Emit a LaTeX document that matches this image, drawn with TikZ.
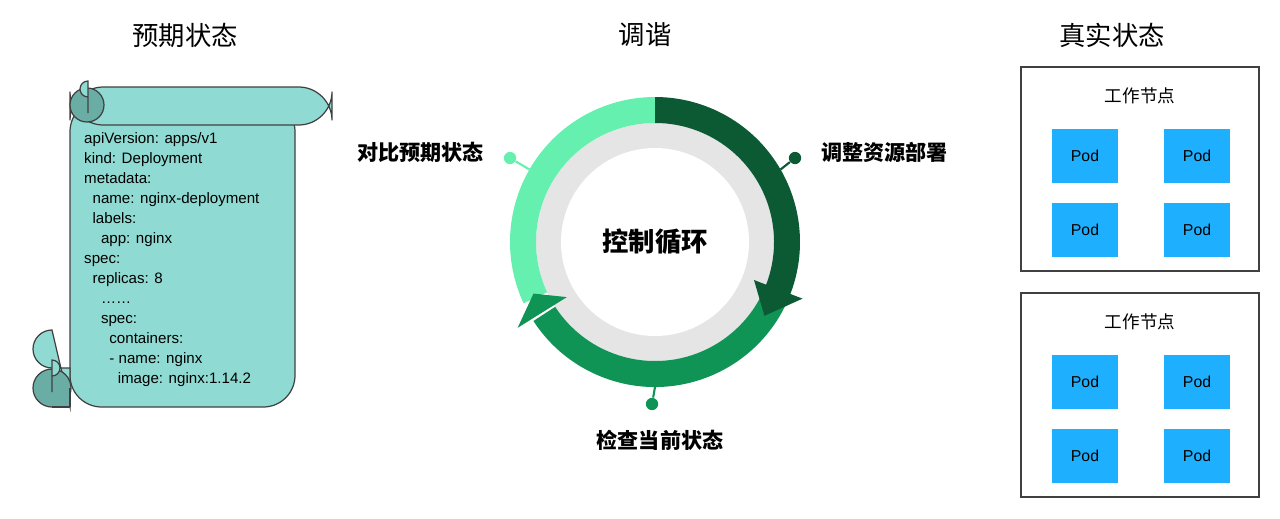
\documentclass[tikz,border=0pt]{standalone}
\usepackage{fontspec}
\setmainfont{Liberation Sans}
\newfontfamily\cjk{Noto Sans CJK SC}
\usetikzlibrary{positioning}
\definecolor{scrollfill}{HTML}{8FDBD3}
\definecolor{scrolldark}{HTML}{6AADA4}
\definecolor{lightgreen}{HTML}{66F0B0}
\definecolor{midgreen}{HTML}{109456}
\definecolor{darkgreen}{HTML}{0B5A34}
\definecolor{podblue}{HTML}{1EB0FF}
\tikzset{
  title/.style={font=\cjk\fontsize{15}{18}\selectfont},
  steplabel/.style={font=\cjk\bfseries\fontsize{12}{14}\selectfont},
  nodebox/.style={draw=black!75, line width=0.6pt},
  pod/.style={fill=podblue, minimum width=38pt, minimum height=31pt, inner sep=0pt, font=\fontsize{9}{10}\selectfont},
  dot/.style={circle, inner sep=0pt, minimum size=7pt},
}
\begin{document}
\begin{tikzpicture}[x=0.02cm, y=-0.02cm]
    \useasboundingbox (0,0) rectangle (1280,518);

    % Titles
    \node[title] (want_title) at (185,35) {预期状态};
    \node[title] (sync_title) at (645,35) {调谐};
    \node[title] (real_title) at (1112,35) {真实状态};

    % Scroll
    \begin{scope}[draw=black!75, line width=0.7pt]
        \draw[fill=scrollfill, rounded corners=18] (70,100) -- (70,407) -- (295,407) -- (295,100) -- cycle;
        \draw[fill=scrollfill] (52,368) arc (90:270:19) -- (70,407) -- (70,368) -- cycle;
        \draw[fill=scrollfill, rounded corners=19] (70,125) -- (70,87) -- (332,87) -- (332,125) -- cycle;
        \draw[fill=scrolldark] (87,105) circle (17);
        \draw[fill=scrollfill] (88,97) arc (-90:90:-8) -- (88,113);
        \draw[fill=scrolldark] (52,388) circle (19);
        \draw[fill=scrollfill] (52,376) arc (90:-90:8) -- (52,392);
        \draw[fill=scrolldark, draw=none] (52,393) -- (70,393) -- (70,406) -- (52,406) -- cycle;
        \draw (52,407) -- (70,407) (70,388) -- (70,407);
    \end{scope}
    \node[anchor=north west, align=left, font=\fontsize{8.6}{11.4}\selectfont] (yaml) at (78,126) {
        apiVersion: apps/v1\\
        kind: Deployment\\
        metadata:\\
        \ \ name: nginx-deployment\\
        \ \ labels:\\
        \ \ \ \ app: nginx\\
        spec:\\
        \ \ replicas: 8\\
        \ \ \ \ ……\\
        \ \ \ \ spec:\\
        \ \ \ \ \ \ containers:\\
        \ \ \ \ \ \ - name: nginx\\
        \ \ \ \ \ \ \ \ image: nginx:1.14.2
    };

    % Control loop
    \begin{scope}[shift={(655,242)}, y=0.02cm]
        \fill[black!10] (0,0) circle (119);
        \fill[white] (0,0) circle (94);
        \fill[lightgreen] (90:145) arc (90:205:145) -- (205:119) arc (205:90:119) -- cycle;
        \fill[midgreen] (-25:145) arc (-25:-147:145) -- (-147:119) arc (-147:-25:119) -- cycle;
        \fill[midgreen] (-148:104) -- (-148:162) -- (-157:132) -- cycle;
        \fill[darkgreen] (90:145) arc (90:-22:145) -- (-22:119) arc (-22:90:119) -- cycle;
        \fill[darkgreen] (-21:106) -- (-21:158) -- (-34:132) -- cycle;
        \coordinate (left_end) at (150:145);
        \coordinate (right_end) at (30:145);
        \coordinate (bottom_end) at (-90:145);
    \end{scope}
    \node[font=\cjk\bfseries\fontsize{15}{18}\selectfont] (loop) at (655,242) {控制循环};

    \node[dot, fill=lightgreen] (dot_cmp) at (510,158) {};
    \node[dot, fill=darkgreen] (dot_adj) at (795,158) {};
    \node[dot, fill=midgreen] (dot_chk) at (652,404) {};
    \draw[lightgreen, line width=1.2pt] (dot_cmp) -- (left_end);
    \draw[darkgreen, line width=1.2pt] (dot_adj) -- (right_end);
    \draw[midgreen, line width=1.2pt] (dot_chk) -- (bottom_end);

    \node[steplabel, anchor=east] (cmp) at (490,152) {对比预期状态};
    \node[steplabel, anchor=west] (adj) at (815,152) {调整资源部署};
    \node[steplabel] (chk) at (660,440) {检查当前状态};

    % Worker nodes
    \foreach \i/\top in {1/67, 2/293} {
        \draw[nodebox] (1021,\top) rectangle (1259,\top+204);
        \node[font=\cjk\fontsize{10}{12}\selectfont] (worker\i) at (1140,\top+29) {工作节点};
        \foreach \c/\x in {1/1085, 2/1197} {
            \foreach \r/\dy in {1/89, 2/163} {
                \node[pod] (pod\i\r\c) at (\x,\top+\dy) {Pod};
            }
        }
    }
\end{tikzpicture}
\end{document}
